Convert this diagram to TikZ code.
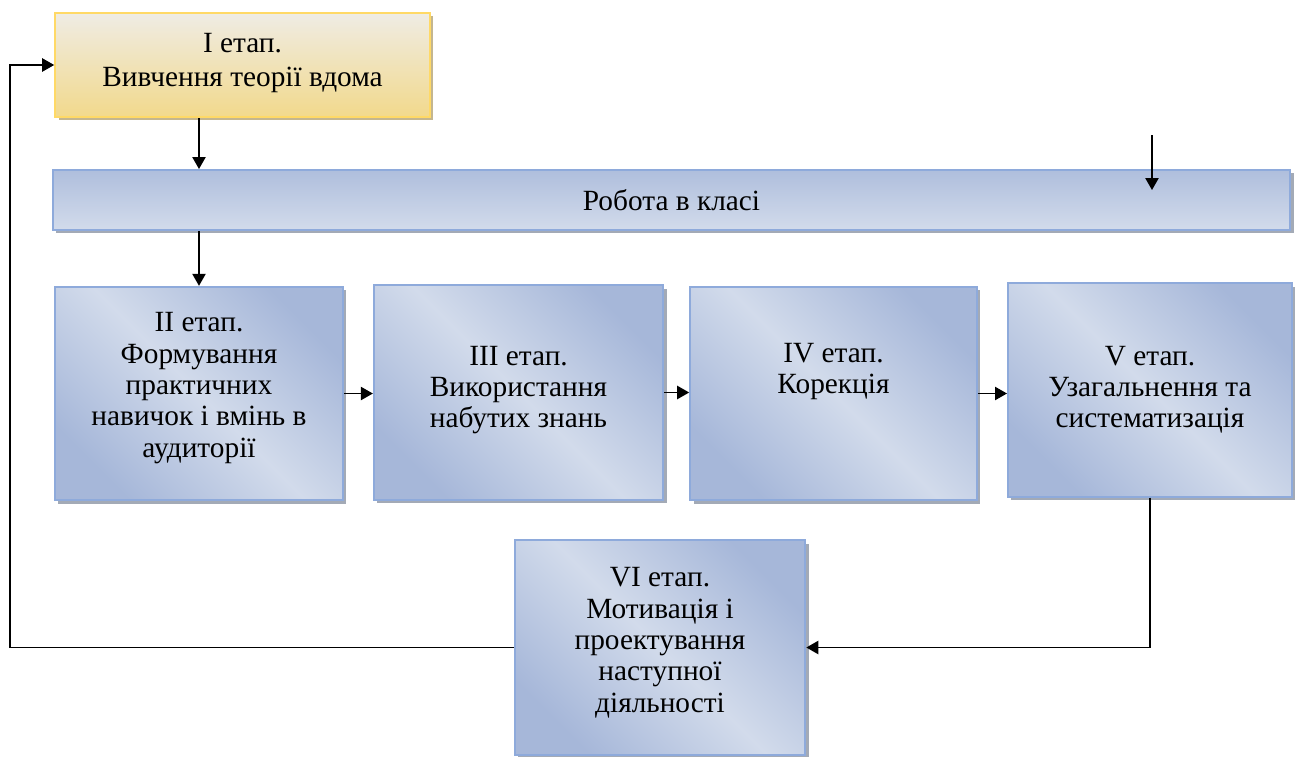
\documentclass[tikz,border=0pt]{standalone}
\usepackage{fontspec}
\setmainfont{Liberation Serif}
\usetikzlibrary{arrows.meta,shadows}

\definecolor{stageline}{HTML}{8EAADB}
\definecolor{stagelight}{HTML}{D2DBEB}
\definecolor{stagedark}{HTML}{A6B7D9}
\definecolor{shadowblue}{HTML}{A3AAB6}
\definecolor{homeline}{HTML}{FFD966}
\definecolor{hometop}{HTML}{EFECE4}
\definecolor{homebottom}{HTML}{F2D98C}
\definecolor{shadowtan}{HTML}{C4B68F}

\tikzset{
  stage/.style={draw=stageline, line width=1.5pt, inner sep=0pt, align=center,
    font=\fontsize{22}{23.5}\selectfont,
    left color=stagedark, right color=stagedark, middle color=stagelight, shading angle=-45,
    drop shadow={shadow xshift=2.5pt, shadow yshift=-2.5pt, fill=shadowblue, opacity=1}},
  arr/.style={-{Triangle[length=9pt,width=10pt]}, line width=1pt},
}

\begin{document}
\begin{tikzpicture}[x=0.75pt,y=-0.75pt]
\useasboundingbox (0,0) rectangle (1297,757);

\node[stage, draw=homeline, top color=hometop, bottom color=homebottom,
  drop shadow={shadow xshift=2.5pt, shadow yshift=-2.5pt, fill=shadowtan, opacity=1},
  font=\fontsize{22}{26}\selectfont,
  minimum width=281pt, minimum height=78pt] (s1) at (242.5,65) {I етап.\\Вивчення теорії вдома\\[-18.5pt]};
\node[stage, top color=stagedark!80!stagelight, bottom color=stagelight,
  minimum width=928pt, minimum height=45pt] (work) at (671.5,200) {Робота в класі};

\node[stage, minimum width=216pt, minimum height=160pt] (s2) at (199,393.5)
  {II етап.\\Формування\\практичних\\навичок і вмінь в\\аудиторії\\[-10.5pt]};
\node[stage, minimum width=217pt, minimum height=161pt] (s3) at (518.5,392.5)
  {III етап.\\Використання\\набутих знань\\[-15pt]};
\node[stage, minimum width=215pt, minimum height=160pt] (s4) at (833.5,393.5)
  {IV етап.\\Корекція\\[14pt]};
\node[stage, minimum width=213pt, minimum height=160pt] (s5) at (1150,390)
  {V етап.\\Узагальнення та\\систематизація\\[-19pt]};
\node[stage, minimum width=218pt, minimum height=161pt] (s6) at (660,647.5)
  {VI етап.\\Мотивація і\\проектування\\наступної\\діяльності\\[-12pt]};

\coordinate (top) at (1152,135);
\coordinate (back) at (10,0);

\draw[arr] (s1.south -| s2.north) -- (work.north -| s2.north);
\draw[arr] (top) -- ++(0,55);
\draw[arr] (work.south -| s2.north) -- (s2.north);
\draw[arr] (s2.east) -- (s2.east -| s3.west);
\draw[arr] (s3.east) -- (s3.east -| s4.west);
\draw[arr] (s4.east) -- (s4.east -| s5.west);
\draw[arr] (s5.south) |- (s6.east);
\draw[arr] (s6.west) -- (s6.west -| back) |- (s1.west);
\end{tikzpicture}
\end{document}
